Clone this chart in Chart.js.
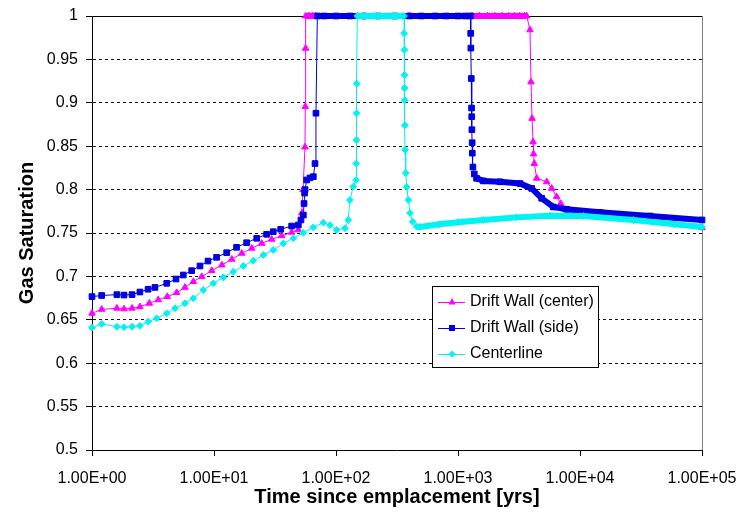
<!DOCTYPE html>
<html>
<head>
<meta charset="utf-8">
<script src="https://cdn.jsdelivr.net/npm/chart.js@4.4.1/dist/chart.umd.min.js"></script>
<style>
  html, body { margin: 0; padding: 0; background: #fff; }
  #wrap { width: 740px; height: 518px; }
</style>
</head>
<body>
<div id="wrap"><canvas id="gasChart" width="740" height="518"></canvas></div>
<script>
// Gas saturation vs time since emplacement

// Drift Wall (center) - magenta triangles
const centerYears = [1, 1.2, 1.6, 1.83, 2.13, 2.47, 2.95, 3.49, 4.14, 4.94, 5.78, 6.77, 7.93, 9.58,
  11.6, 14, 16.9, 20.4, 24.6, 29.7, 35.9, 43.3, 49.1, 52.4, 53.7, 55.7, 56, 56.3, 56.5,
  60, 64, 68, 150, 400, 1300, 1500, 1750, 2000, 2300, 2600, 2900, 3200, 3500, 3656,
  3890, 3967, 4045, 4125, 4165, 4220, 4418, 5335, 5860, 6442, 6950, 7680, 10000, 30000, 60000, 100000];
const centerSat = [0.6575, 0.662, 0.6633, 0.6625, 0.6633, 0.665, 0.669, 0.673, 0.6767, 0.6812, 0.6873, 0.694, 0.6997, 0.7066,
  0.7131, 0.7197, 0.7266, 0.7324, 0.738, 0.7427, 0.7468, 0.7508, 0.7535, 0.773, 0.80, 0.849, 0.8955, 0.9628, 1,
  1, 1, 1, 1, 1, 1, 1, 1, 1, 1, 1, 1, 1, 1, 1,
  0.984, 0.924, 0.882, 0.855, 0.841, 0.830, 0.813, 0.809, 0.8014, 0.7918, 0.784, 0.777, 0.771, 0.766, 0.761, 0.756];

// Drift Wall (side) - blue squares
const sideYears = [1, 1.2, 1.6, 1.83, 2.13, 2.47, 2.88, 3.28, 4.1, 4.88, 5.6, 6.56, 7.68, 8.93,
  10.5, 12.7, 15.3, 18.5, 22.4, 27, 30.6, 35.2, 43.3, 49.1, 51.6, 54, 54.7, 55.3, 55.8, 57.5, 61.2, 65.2, 67.3, 68.5, 70.3,
  80, 100, 130, 170, 220, 300, 400, 500, 650, 800, 1000, 1150, 1265,
  1271, 1275, 1285, 1292, 1296, 1300, 1306, 1310, 1325, 1360, 1420, 1612, 2208, 3220, 4018, 4853, 6040, 7780,
  14580, 37500, 100000];
const sideSat = [0.6767, 0.678, 0.679, 0.6785, 0.679, 0.682, 0.6852, 0.6873, 0.692, 0.697, 0.7016, 0.7066, 0.712, 0.7177,
  0.722, 0.7273, 0.7335, 0.7388, 0.7439, 0.7485, 0.7515, 0.7543, 0.758, 0.7592, 0.765, 0.7707, 0.784, 0.796, 0.80, 0.8111, 0.8135, 0.8149, 0.830, 0.888, 1,
  1, 1, 1, 1, 1, 1, 1, 1, 1, 1, 1, 1, 1,
  0.980, 0.963, 0.928, 0.894, 0.884, 0.869, 0.854, 0.842, 0.826, 0.818, 0.813, 0.810, 0.809, 0.807, 0.8014, 0.790, 0.780, 0.7773,
  0.7738, 0.7696, 0.765];

// Centerline - cyan diamonds
const lineYears = [1, 1.2, 1.6, 1.83, 2.13, 2.47, 2.89, 3.39, 4.1, 4.79, 5.78, 6.77, 8.17, 9.87,
  11.9, 14.4, 17.4, 21, 25.4, 30.6, 37, 44.7, 54, 65.2, 78.7, 89.3, 101, 118.6, 126, 130, 138.6,
  146, 146.5, 147, 147.5, 148, 149.5, 170, 200, 230, 260, 290, 320, 350, 361,
  362, 363, 364, 365, 366, 367, 368, 373, 380, 392, 404, 425, 459, 488,
  700, 1000, 1612, 3000, 5675, 10640, 27350, 60000, 100000];
const lineSat = [0.641, 0.6452, 0.642, 0.6415, 0.642, 0.643, 0.6479, 0.6517, 0.6575, 0.6633, 0.669, 0.6747, 0.6843, 0.692,
  0.6989, 0.7054, 0.712, 0.7181, 0.7247, 0.7304, 0.738, 0.7439, 0.7503, 0.7565, 0.762, 0.759, 0.7535, 0.7555, 0.765, 0.788, 0.8034,
  0.811, 0.830, 0.857, 0.888, 0.922, 1, 1, 1, 1, 1, 1, 1, 1, 1,
  0.980, 0.961, 0.932, 0.917, 0.903, 0.874, 0.846, 0.819, 0.803, 0.788, 0.773, 0.763, 0.7573, 0.757,
  0.760, 0.7625, 0.765, 0.768, 0.770, 0.7696, 0.765, 0.760, 0.757];

const xTickValues = [1, 10, 100, 1000, 10000, 100000];
const seriesNames = ['Drift Wall (center)', 'Drift Wall (side)', 'Centerline'];

const FONT = "'Liberation Sans', Arial, sans-serif";
const MAGENTA = '#ff00ff';
const BLUE = '#0000e0';
const CYAN = '#00f2f2';

function toPoints(xs, ys) {
  return xs.map((x, i) => ({ x: x, y: ys[i] }));
}

function formatSci(v) {
  const exp = Math.round(Math.log10(v));
  const sign = exp < 0 ? '-' : '+';
  return '1.00E' + sign + String(Math.abs(exp)).padStart(2, '0');
}

// segments where the markers are packed so tight they read as a thick band
function bandWidth(xs, lo, hi) {
  return (ctx) => {
    const x0 = xs[ctx.p0DataIndex];
    const x1 = xs[ctx.p1DataIndex];
    const steep = Math.abs(ctx.p1.y - ctx.p0.y) > Math.abs(ctx.p1.x - ctx.p0.x);
    return (x0 >= lo && x1 <= hi && !steep) ? 6 : 1;
  };
}

// plot frame: solid top edge and grey right edge, like the spreadsheet plot area
const framePlugin = {
  id: 'frame',
  beforeDatasetsDraw(chart) {
    const { ctx, chartArea: a } = chart;
    ctx.save();
    ctx.lineWidth = 1;
    ctx.strokeStyle = '#000';
    ctx.beginPath();
    ctx.moveTo(a.left, a.top + 0.5);
    ctx.lineTo(a.right, a.top + 0.5);
    ctx.stroke();
    ctx.strokeStyle = '#808080';
    ctx.beginPath();
    ctx.moveTo(a.right + 0.5, a.top);
    ctx.lineTo(a.right + 0.5, a.bottom);
    ctx.stroke();
    ctx.restore();
  }
};

function drawMarker(ctx, style, x, y, color) {
  ctx.fillStyle = color;
  ctx.beginPath();
  if (style === 'triangle') {
    ctx.moveTo(x, y - 4);
    ctx.lineTo(x + 3.5, y + 2.5);
    ctx.lineTo(x - 3.5, y + 2.5);
  } else if (style === 'rect') {
    ctx.rect(x - 3, y - 3, 6, 6);
  } else {
    ctx.moveTo(x, y - 3.5);
    ctx.lineTo(x + 3.5, y);
    ctx.lineTo(x, y + 3.5);
    ctx.lineTo(x - 3.5, y);
  }
  ctx.closePath();
  ctx.fill();
}

// boxed legend inside the plot, line sample with marker
const legendPlugin = {
  id: 'boxLegend',
  afterDraw(chart) {
    const { ctx, chartArea: a } = chart;
    const items = [
      { name: seriesNames[0], color: MAGENTA, style: 'triangle' },
      { name: seriesNames[1], color: BLUE, style: 'rect' },
      { name: seriesNames[2], color: CYAN, style: 'rectRot' }
    ];
    const left = a.left + 340;
    const top = a.top + 270;
    const w = 166;
    const h = 81;
    ctx.save();
    ctx.fillStyle = '#fff';
    ctx.fillRect(left, top, w, h);
    ctx.strokeStyle = '#000';
    ctx.lineWidth = 1;
    ctx.strokeRect(left + 0.5, top + 0.5, w, h);
    ctx.font = '16px ' + FONT;
    ctx.textBaseline = 'middle';
    items.forEach((it, i) => {
      const y = top + 16 + i * 26;
      ctx.strokeStyle = it.color;
      ctx.beginPath();
      ctx.moveTo(left + 6, y + 0.5);
      ctx.lineTo(left + 33, y + 0.5);
      ctx.stroke();
      drawMarker(ctx, it.style, left + 20, y, it.color);
      ctx.fillStyle = '#000';
      ctx.fillText(it.name, left + 38, y);
    });
    ctx.restore();
  }
};

const chart = new Chart(document.getElementById('gasChart'), {
  type: 'line',
  data: {
    datasets: [
      {
        label: seriesNames[0],
        data: toPoints(centerYears, centerSat),
        borderColor: MAGENTA,
        backgroundColor: MAGENTA,
        pointBackgroundColor: MAGENTA,
        pointBorderColor: MAGENTA,
        pointStyle: 'triangle',
        pointRadius: 3.8,
        borderWidth: 1,
        segment: { borderWidth: bandWidth(centerYears, 56, 3700) },
        order: 3,
        clip: false
      },
      {
        label: seriesNames[1],
        data: toPoints(sideYears, sideSat),
        borderColor: BLUE,
        backgroundColor: BLUE,
        pointBackgroundColor: BLUE,
        pointBorderColor: BLUE,
        pointStyle: 'rect',
        pointRadius: 4,
        borderWidth: 1,
        segment: { borderWidth: bandWidth(sideYears, 70, 100000) },
        order: 2,
        clip: false
      },
      {
        label: seriesNames[2],
        data: toPoints(lineYears, lineSat),
        borderColor: CYAN,
        backgroundColor: CYAN,
        pointBackgroundColor: CYAN,
        pointBorderColor: CYAN,
        pointStyle: 'rectRot',
        pointRadius: 3.4,
        borderWidth: 1,
        segment: { borderWidth: bandWidth(lineYears, 149, 100000) },
        order: 1,
        clip: false
      }
    ]
  },
  options: {
    responsive: false,
    animation: false,
    layout: { padding: { top: 16, right: 38, left: 0, bottom: 0 } },
    plugins: {
      legend: { display: false },
      tooltip: { enabled: false }
    },
    elements: {
      line: { tension: 0, borderCapStyle: 'butt' },
      point: { borderWidth: 1 }
    },
    scales: {
      x: {
        type: 'logarithmic',
        min: 1,
        max: 100000,
        afterBuildTicks: (scale) => {
          scale.ticks = xTickValues.map((v) => ({ value: v }));
        },
        afterFit: (scale) => {
          scale.height = 68;
          // labels at the ends may hang into the margins
          scale.paddingLeft = 0;
          scale.paddingRight = 0;
        },
        ticks: {
          callback: (v) => formatSci(v),
          color: '#000',
          font: { family: FONT, size: 16 },
          padding: 13,
          maxRotation: 0,
          autoSkip: false
        },
        grid: {
          drawOnChartArea: false,
          drawTicks: true,
          tickLength: 6,
          tickColor: '#000'
        },
        border: { display: true, color: '#000', width: 1 },
        title: {
          display: true,
          text: 'Time since emplacement [yrs]',
          color: '#000',
          font: { family: FONT, size: 20, weight: 'bold' },
          padding: { top: 0, bottom: 9 }
        }
      },
      y: {
        min: 0.5,
        max: 1,
        afterFit: (scale) => {
          scale.width = 92;
          scale.paddingTop = 0;
          scale.paddingBottom = 0;
        },
        ticks: {
          stepSize: 0.05,
          callback: (v) => String(Number(v.toFixed(2))),
          color: '#000',
          font: { family: FONT, size: 16 },
          padding: 8
        },
        grid: {
          drawOnChartArea: true,
          drawTicks: true,
          tickLength: 6,
          tickColor: '#000',
          lineWidth: 1,
          color: (ctx) => {
            const v = ctx.tick ? Math.round(ctx.tick.value * 100) : 0;
            return (v === 50 || v === 100) ? 'rgba(0,0,0,0)' : '#111';
          }
        },
        border: { display: true, color: '#000', width: 1, dash: [3, 3] },
        title: {
          display: true,
          text: 'Gas Saturation',
          color: '#000',
          font: { family: FONT, size: 20, weight: 'bold' },
          padding: { top: 15, bottom: 0 }
        }
      }
    }
  },
  plugins: [framePlugin, legendPlugin]
});
</script>
</body>
</html>
